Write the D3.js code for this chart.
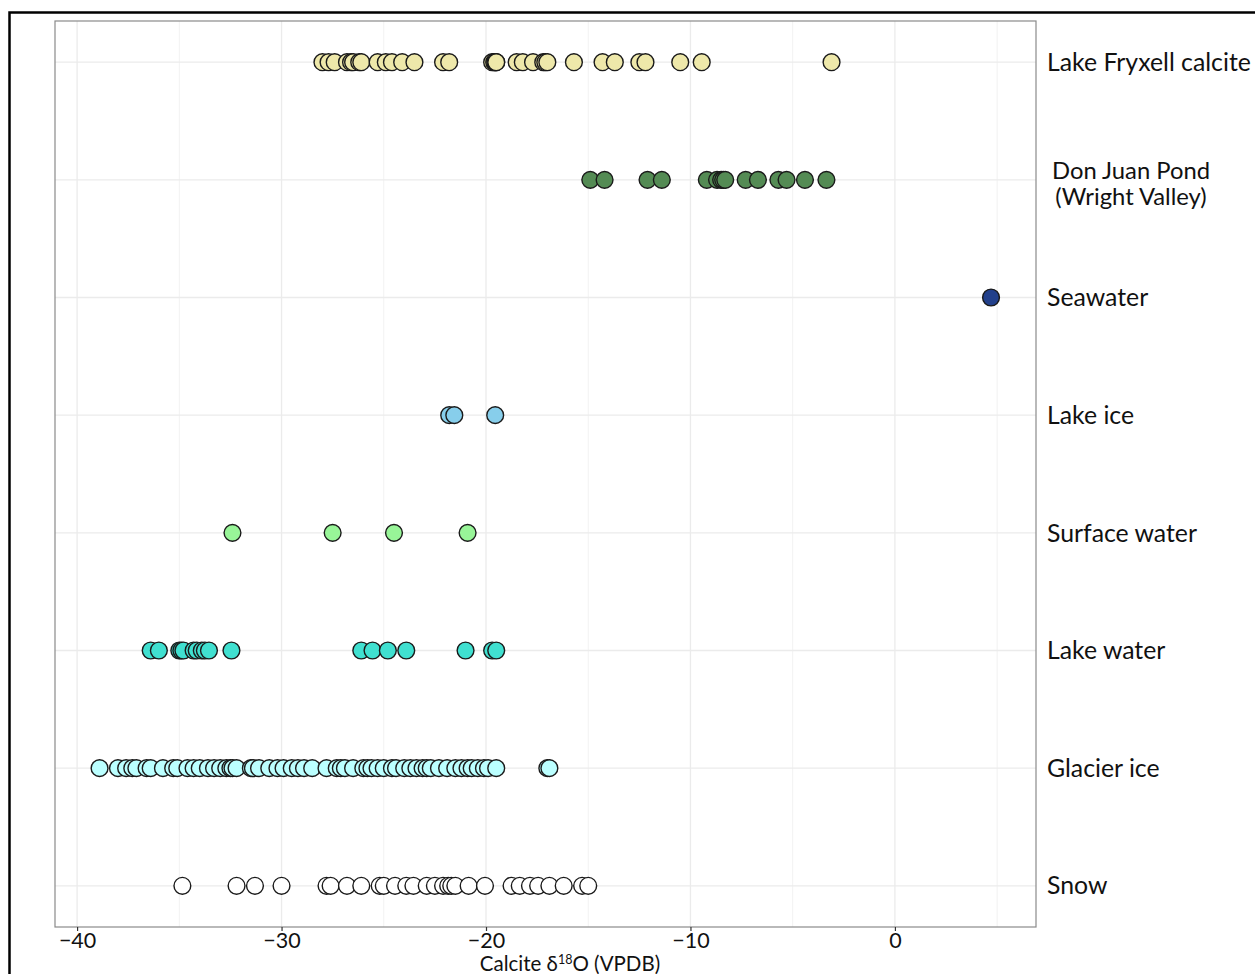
<!DOCTYPE html>
<html>
<head>
<meta charset="utf-8">
<script src="https://cdn.jsdelivr.net/npm/d3@7"></script>
<style>
  html, body { margin: 0; padding: 0; background: #fff; }
  svg { display: block; }
</style>
</head>
<body>
<script>
// Sample groups, top to bottom
const categories = ["Lake Fryxell calcite", "Don Juan Pond\n(Wright Valley)", "Seawater", "Lake ice",
                    "Surface water", "Lake water", "Glacier ice", "Snow"];
const fillColors = ["#eee8aa", "#548b54", "#22408b", "#87ceeb", "#98f598", "#40e0d0", "#bbffff", "#ffffff"];

// Calcite δ18O (VPDB) values for each group
const lakeFryxell = [-28.0, -27.7, -27.4, -26.8, -26.6, -26.5, -26.2, -26.1, -25.3, -24.9, -24.6, -24.1,
  -23.5, -22.1, -21.8, -19.7, -19.6, -19.55, -19.5, -19.5, -18.5, -18.2, -17.7, -17.2, -17.1, -17.0,
  -15.7, -14.3, -13.7, -12.5, -12.2, -10.5, -9.45, -3.1];
const donJuanPond = [-14.9, -14.2, -12.1, -11.4, -9.2, -8.7, -8.5, -8.4, -8.3, -7.3, -6.7, -5.7, -5.3, -4.4, -3.35];
const seawater = [4.7];
const lakeIce = [-21.8, -21.55, -19.55];
const surfaceWater = [-32.4, -27.5, -24.5, -20.9];
const lakeWater = [-36.4, -36.0, -35.0, -34.9, -34.8, -34.3, -34.15, -33.9, -33.75, -33.55, -32.45,
  -26.1, -25.55, -24.8, -23.9, -21.0, -19.7, -19.5];
const glacierIce = [-38.9, -38.0, -37.6, -37.3, -37.1, -36.6, -36.4, -35.8, -35.3, -35.1, -34.6, -34.3,
  -34.0, -33.6, -33.3, -33.0, -32.7, -32.5, -32.4, -32.2, -31.5, -31.4, -31.1, -30.6, -30.2, -29.9,
  -29.5, -29.2, -28.9, -28.5, -27.8, -27.3, -27.1, -26.9, -26.5, -26.0, -25.8, -25.6, -25.3, -25.0,
  -24.6, -24.4, -24.0, -23.7, -23.4, -23.1, -22.9, -22.7, -22.3, -21.9, -21.5, -21.2, -20.9, -20.7,
  -20.4, -20.1, -19.9, -19.5, -17.0, -16.9];
const snow = [-34.85, -32.2, -31.3, -30.0, -27.8, -27.6, -26.8, -26.1, -25.2, -25.0, -24.45, -23.9,
  -23.55, -22.9, -22.5, -22.1, -21.85, -21.7, -21.5, -20.85, -20.05, -18.75, -18.35, -17.85, -17.45,
  -16.9, -16.2, -15.3, -15.0];
const groupValues = [lakeFryxell, donJuanPond, seawater, lakeIce, surfaceWater, lakeWater, glacierIce, snow];

const xTicks = [-40, -30, -20, -10, 0];
const xMinorTicks = [-35, -25, -15, -5, 5];
const xDomain = [-41.08, 6.9];

const W = 1255, H = 974;
const panel = { left: 55, right: 1036, top: 21, bottom: 927 };

const svg = d3.select("body").append("svg").attr("width", W).attr("height", H);

// Outer frame
svg.append("rect").attr("x", 9.5).attr("y", 12.5).attr("width", 1260).attr("height", 1000)
  .attr("fill", "none").attr("stroke", "#000").attr("stroke-width", 2.5);

const x = d3.scaleLinear().domain(xDomain).range([panel.left, panel.right]);
const y = d3.scalePoint().domain(categories).range([panel.top, panel.bottom]).padding(0.35);

const font = "Lato, 'Open Sans', sans-serif";

// Grid
const grid = svg.append("g");
grid.selectAll(".minor").data(xMinorTicks.filter(t => x(t) < panel.right)).join("line")
  .attr("x1", d => x(d)).attr("x2", d => x(d)).attr("y1", panel.top).attr("y2", panel.bottom)
  .attr("stroke", "#f2f2f2").attr("stroke-width", 1);
grid.selectAll(".major").data(xTicks).join("line")
  .attr("x1", d => x(d)).attr("x2", d => x(d)).attr("y1", panel.top).attr("y2", panel.bottom)
  .attr("stroke", "#ebebeb").attr("stroke-width", 1.3);
grid.selectAll(".hgrid").data(categories).join("line")
  .attr("x1", panel.left).attr("x2", panel.right).attr("y1", d => y(d)).attr("y2", d => y(d))
  .attr("stroke", "#ebebeb").attr("stroke-width", 1.3);

// Points
const points = [];
groupValues.forEach((vals, i) => vals.forEach(v => points.push({ cat: categories[i], v, fill: fillColors[i] })));
svg.append("g").selectAll("circle").data(points).join("circle")
  .attr("cx", d => x(d.v)).attr("cy", d => y(d.cat)).attr("r", 8.4)
  .attr("fill", d => d.fill).attr("stroke", "#1a1a1a").attr("stroke-width", 1.4);

// Panel border
svg.append("rect").attr("x", panel.left).attr("y", panel.top)
  .attr("width", panel.right - panel.left).attr("height", panel.bottom - panel.top)
  .attr("fill", "none").attr("stroke", "#8a8a8a").attr("stroke-width", 1.2);

// Bottom axis
const xAxis = d3.axisBottom(x).tickValues(xTicks).tickSize(4).tickPadding(2)
  .tickFormat(d => d < 0 ? "\u2212" + Math.abs(d) : String(d));
const gx = svg.append("g").attr("transform", `translate(0,${panel.bottom})`).call(xAxis);
gx.select(".domain").remove();
gx.selectAll(".tick line").attr("stroke", "#333").attr("stroke-width", 1.2);
gx.selectAll(".tick text").attr("fill", "#111").style("font-family", font).style("font-size", "21.5px");

// Axis title
const title = svg.append("text").attr("x", 570).attr("y", 971).attr("text-anchor", "middle")
  .style("font-family", font).style("font-size", "20.5px").attr("fill", "#111");
title.append("tspan").text("Calcite \u03b4");
title.append("tspan").attr("dy", -7).style("font-size", "12.5px").text("18");
title.append("tspan").attr("dy", 7).text("O (VPDB)");

// Right-side category labels
const labels = svg.append("g");
categories.forEach(c => {
  const lines = c.split("\n");
  if (lines.length === 1) {
    labels.append("text").attr("x", 1047).attr("y", y(c)).attr("dy", "0.35em")
      .style("font-family", font).style("font-size", "24.8px").attr("fill", "#111").text(c);
  } else {
    lines.forEach((ln, k) => {
      labels.append("text").attr("x", 1131).attr("y", y(c) - 9 + k * 26).attr("dy", "0.35em")
        .attr("text-anchor", "middle")
        .style("font-family", font).style("font-size", "23.8px").attr("fill", "#111").text(ln);
    });
  }
});
</script>
</body>
</html>
